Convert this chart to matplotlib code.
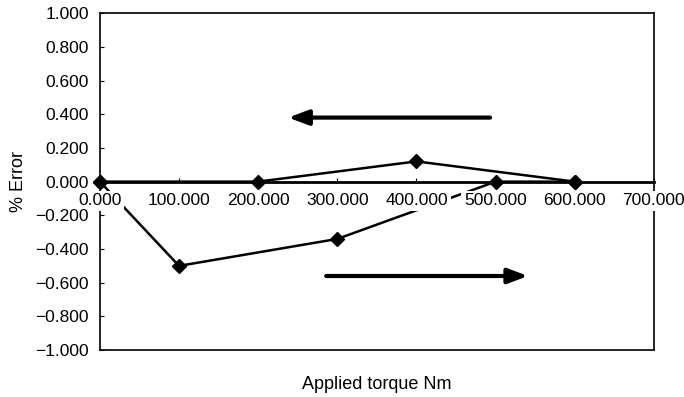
import matplotlib.pyplot as plt
from matplotlib.ticker import FuncFormatter

plt.rcParams['font.family'] = ['Liberation Sans', 'DejaVu Sans']

# Loading (increasing torque) and unloading (decreasing torque)
torque_up = [0, 100, 300, 500, 600]
error_up = [0.0, -0.50, -0.34, 0.0, 0.0]
torque_down = [600, 400, 200, 0]
error_down = [0.0, 0.12, 0.0, 0.0]

x_ticks = [0, 100, 200, 300, 400, 500, 600, 700]
y_ticks = [-1.0, -0.8, -0.6, -0.4, -0.2, 0.0, 0.2, 0.4, 0.6, 0.8, 1.0]


def fmt(v, pos):
    return ('%.3f' % v).replace('-', '\u2212')


fig = plt.figure(figsize=(6.84, 3.97), dpi=100)
ax = fig.add_axes([0.146, 0.118, 0.81, 0.849])

ax.plot(torque_up, error_up, color='black', lw=1.8, marker='D', ms=7.5, zorder=3, clip_on=False)
ax.plot(torque_down, error_down, color='black', lw=1.8, marker='D', ms=7.5, zorder=3, clip_on=False)

# direction arrows
arrow = dict(arrowstyle='-|>,head_length=1.2,head_width=0.45', color='black', lw=3,
             shrinkA=0, shrinkB=0)
ax.annotate('', xy=(238, 0.38), xytext=(493, 0.38), arrowprops=arrow)
ax.annotate('', xy=(541, -0.56), xytext=(286, -0.56), arrowprops=arrow)

ax.set_xlim(0, 700)
ax.set_ylim(-1.0, 1.0)
ax.set_xticks(x_ticks)
ax.set_yticks(y_ticks)
ax.xaxis.set_major_formatter(FuncFormatter(fmt))
ax.yaxis.set_major_formatter(FuncFormatter(fmt))

# x axis sits on the zero line, box drawn around the plot
ax.spines['bottom'].set_position(('data', 0))
ax.spines['bottom'].set_linewidth(2)
ax.plot([0, 1], [0, 0], transform=ax.transAxes, color='black', lw=1.2, clip_on=False)
for name in ['left', 'right', 'top']:
    ax.spines[name].set_linewidth(1.2)

ax.tick_params(axis='x', direction='in', length=3, labelsize=12.5, pad=8.5)
ax.tick_params(axis='y', direction='in', length=3, labelsize=12.5, pad=8)
ax.xaxis.set_zorder(5)
ax.yaxis.set_zorder(6)
for lbl in ax.get_xticklabels():
    lbl.set_bbox(dict(facecolor='white', edgecolor='none', pad=2))

ax.set_ylabel('% Error', fontsize=13, labelpad=6)
fig.text(0.5 * (0.146 + 0.956), 0.02, 'Applied torque Nm', ha='center', fontsize=13)

fig.savefig('out.png', dpi=100)
